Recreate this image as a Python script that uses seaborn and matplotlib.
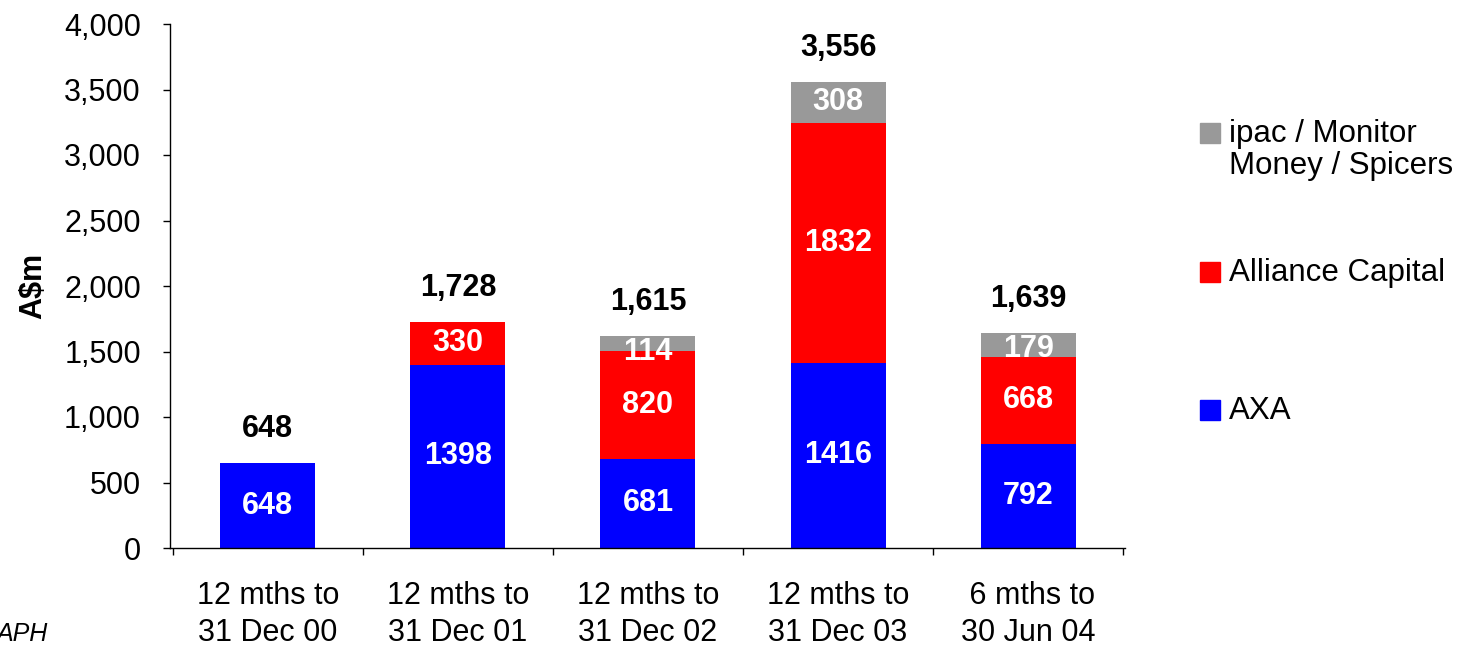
import pandas as pd
import seaborn as sns
import matplotlib.pyplot as plt
from matplotlib.patches import Rectangle
from matplotlib.ticker import FuncFormatter, MultipleLocator, FixedLocator

# -------------------------------
# Data
# -------------------------------
periods = ["12 mths to\n31 Dec 00", "12 mths to\n31 Dec 01", "12 mths to\n31 Dec 02",
           "12 mths to\n31 Dec 03", " 6 mths to\n30 Jun 04"]
axa = [648, 1398, 681, 1416, 792]
alliance = [0, 330, 820, 1832, 668]
ipac = [0, 0, 114, 308, 179]

series_names = ["ipac / Monitor\nMoney / Spicers", "Alliance Capital", "AXA"]
series_colors = ["#999999", "#FF0000", "#0000FF"]

# -------------------------------
# Plot
# -------------------------------
sns.set_theme(style="white")
plt.rcParams["font.family"] = ["Liberation Sans", "DejaVu Sans"]
plt.rcParams["text.color"] = "black"
plt.rcParams["axes.labelcolor"] = "black"
plt.rcParams["xtick.color"] = "black"
plt.rcParams["ytick.color"] = "black"
FS = 22

df = pd.DataFrame({"Period": periods, "AXA": axa, "Alliance": alliance, "ipac": ipac})
df["lvl1"] = df["AXA"]
df["lvl2"] = df["AXA"] + df["Alliance"]
df["lvl3"] = df["lvl2"] + df["ipac"]

fig = plt.figure(figsize=(14.58, 6.48), dpi=100)
ax = fig.add_axes([170 / 1458, 100 / 648, 955 / 1458, 524 / 648])

# stacked bars drawn as overlapping cumulative totals (back to front)
for col, color in zip(["lvl3", "lvl2", "lvl1"], series_colors):
    sns.barplot(data=df, x="Period", y=col, color=color, saturation=1,
                width=0.5, ax=ax, order=periods, edgecolor="none", linewidth=0)

# segment labels: centred, but kept inside the top of thin segments
for i, row in df.iterrows():
    bottom = 0
    for col in ["AXA", "Alliance", "ipac"]:
        v = row[col]
        if v > 0:
            y = min(bottom + v / 2, bottom + v - 122)
            ax.text(i, y, f"{v}", ha="center", va="center", zorder=10,
                    color="white", fontsize=FS, fontweight="bold")
        bottom += v
    ax.annotate(f"{row['lvl3']:,}", (i, row["lvl3"]), xytext=(0, 24.5),
                textcoords="offset points", ha="center", va="center",
                fontsize=FS, fontweight="bold", color="black")

ax.set_xlim(-0.515, 4.51)
ax.set_ylim(0, 4000)
ax.yaxis.set_major_locator(MultipleLocator(500))
ax.yaxis.set_major_formatter(FuncFormatter(lambda v, p: f"{v:,.0f}"))
ax.xaxis.set_minor_locator(FixedLocator([-0.5, 0.5, 1.5, 2.5, 3.5, 4.5]))

ax.tick_params(axis="y", which="major", direction="out", length=5, width=1,
               color="black", labelsize=FS, pad=16, left=True)
ax.tick_params(axis="x", which="major", length=0, labelsize=FS, pad=24)
ax.tick_params(axis="x", which="minor", direction="out", length=5, width=1,
               color="black", bottom=True)
for lbl in ax.get_xticklabels():
    lbl.set_linespacing(1.3)

ax.set_xlabel("")
ax.set_ylabel("A$m", fontsize=FS, fontweight="bold")
ax.yaxis.set_label_coords(-0.127, 0.5)

sns.despine(ax=ax)
for s in ["left", "bottom"]:
    ax.spines[s].set_color("black")
    ax.spines[s].set_linewidth(1)

# legend (squares aligned with the first text line)
leg_y = [133, 272, 410]
for name, color, y in zip(series_names, series_colors, leg_y):
    fy = (648 - y) / 648
    fig.add_artist(Rectangle((1200 / 1458, fy - 10 / 648), 20 / 1458, 20 / 648,
                             transform=fig.transFigure, color=color))
    fig.text(1229 / 1458, fy + 14 / 648, name, ha="left", va="top",
             fontsize=22.5, linespacing=1.1)

fig.text(47 / 1458, (648 - 634) / 648, "APH", ha="right", va="center",
         fontsize=18, style="italic")

plt.savefig("out.png", dpi=100)
plt.close()
